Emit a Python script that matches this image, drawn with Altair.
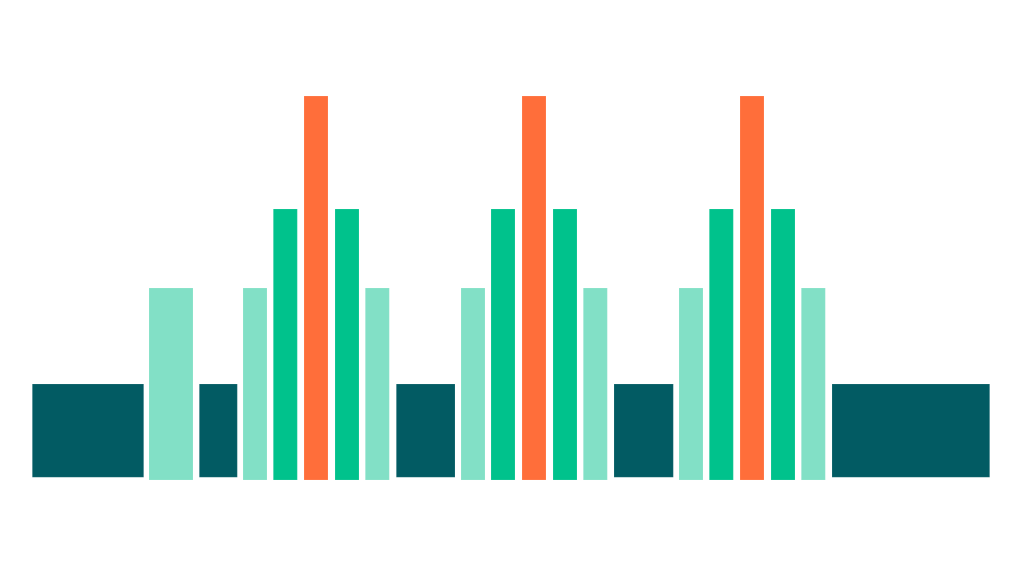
import altair as alt
import pandas as pd

kinds = ["dark", "mint", "dark", "mint", "green", "orange", "green", "mint",
         "dark", "mint", "green", "orange", "green", "mint",
         "dark", "mint", "green", "orange", "green", "mint", "dark"]
x_start = [32.3, 149, 199.3, 243, 273.3, 304, 335, 365.3,
           396.3, 461, 491, 522, 553, 583.3,
           614, 679, 709.3, 740, 771, 801.3, 832]
x_end = [143.7, 193, 237.3, 267, 297.3, 328, 359, 389.3,
         455, 485, 515, 546, 577, 607.3,
         673.3, 703, 733.3, 764, 795, 825.3, 989.7]
level = {"dark": 1.0, "mint": 2.0, "green": 2.823, "orange": 4.0}
base = {"dark": 0.028, "mint": 0.0, "green": 0.0, "orange": 0.0}

df = pd.DataFrame({
    "kind": kinds,
    "x0": x_start,
    "x1": x_end,
    "top": [level[k] for k in kinds],
    "bottom": [base[k] for k in kinds],
})

color_domain = ["dark", "mint", "green", "orange"]
color_range = ["#025B63", "#82E0C6", "#00C28C", "#FF6E3A"]

chart = alt.Chart(df).mark_bar(stroke="#ffffff", strokeOpacity=0.25, strokeWidth=0.5).encode(
    x=alt.X("x0:Q", scale=alt.Scale(domain=[0, 1024], nice=False, zero=False), axis=None),
    x2="x1:Q",
    y=alt.Y("top:Q", scale=alt.Scale(domain=[-1, 5], nice=False, zero=False), axis=None),
    y2="bottom:Q",
    color=alt.Color("kind:N", scale=alt.Scale(domain=color_domain, range=color_range), legend=None),
).properties(
    width=1024, height=576, padding=0, autosize=alt.AutoSizeParams(type="none"),
    background="#ffffff",
).configure_view(stroke=None)

chart.save("out.html", embed_options={"renderer": "svg", "actions": False})
